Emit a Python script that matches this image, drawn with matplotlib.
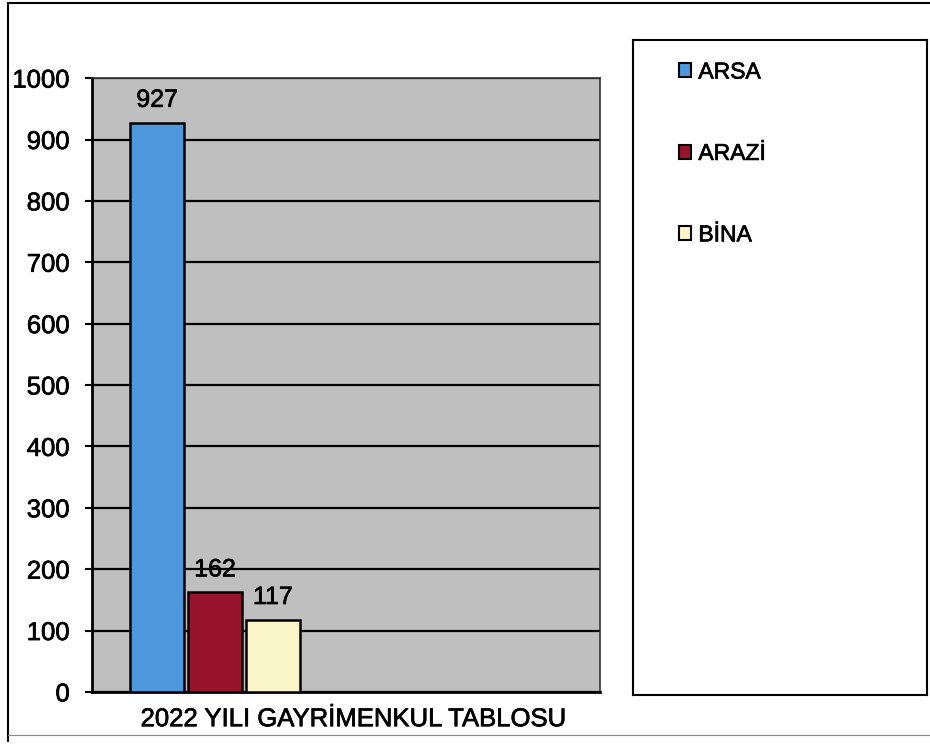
import matplotlib
matplotlib.use('Agg')
import matplotlib.pyplot as plt
import matplotlib.patheffects as pe
from matplotlib.patches import Patch
from matplotlib.lines import Line2D

plt.rcParams['font.family'] = ['Liberation Sans', 'DejaVu Sans']

category = '2022 YILI GAYRİMENKUL TABLOSU'
series = ['ARSA', 'ARAZİ', 'BİNA']
values = [927, 162, 117]
colors = ['#4f97dc', '#98142c', '#faf5c8']
yticks = [0, 100, 200, 300, 400, 500, 600, 700, 800, 900, 1000]

# scanned print looks a bit heavier than plain text
thick = [pe.withStroke(linewidth=0.5, foreground='black')]

fig = plt.figure(figsize=(9.3, 7.44), dpi=100)
fig.patch.set_facecolor('white')

ax = fig.add_axes([0.099, 0.070, 0.546, 0.825])
ax.set_facecolor('#bfbfbf')
ax.set_xlim(0, 1)
ax.set_ylim(0, 1000)
ax.set_yticks(yticks)
ax.yaxis.grid(True, color='black', linewidth=1.6)
ax.set_axisbelow(True)

# bars sit in a group at the left of the single category
bw = 0.106
x0 = 0.128
step = 0.114
for i, (name, v, c) in enumerate(zip(series, values, colors)):
    xc = x0 + i * step
    ax.bar(xc, v, width=bw, color=c, edgecolor='black', linewidth=1.8, zorder=3)
    ax.annotate(str(v), (xc, v), xytext=(0, 8), textcoords='offset points',
                ha='center', va='bottom', fontsize=18, zorder=4, path_effects=thick)

ax.set_xticks([0.515])
ax.set_xticklabels([category], fontsize=18.5)
ax.tick_params(axis='x', length=0, pad=11)
ax.tick_params(axis='y', labelsize=18.5, length=5, width=1.5, pad=11, direction='out')
for lbl in ax.get_xticklabels() + ax.get_yticklabels():
    lbl.set_path_effects(thick)
for s in ['top', 'right']:
    ax.spines[s].set_color('#333333')
    ax.spines[s].set_linewidth(1.2)
for s in ['left', 'bottom']:
    ax.spines[s].set_color('black')
    ax.spines[s].set_linewidth(2)

# legend box
lax = fig.add_axes([0.681, 0.066, 0.316, 0.880])
lax.set_xticks([])
lax.set_yticks([])
for s in lax.spines.values():
    s.set_linewidth(1.5)
    s.set_color('black')
handles = [Patch(facecolor=c, edgecolor='black', linewidth=1.5) for c in colors]
leg = lax.legend(handles, series, loc='upper left', bbox_to_anchor=(0.155, 0.969),
                 frameon=False, fontsize=16.5, handlelength=0.55, handleheight=0.55,
                 handletextpad=0.3, labelspacing=2.55, borderpad=0, borderaxespad=0)
for t in leg.get_texts():
    t.set_path_effects(thick)

# outer chart border from the scan
fig.add_artist(Line2D([0.009, 0.009], [0.004, 0.996], color='black', linewidth=1.5))
fig.add_artist(Line2D([0.009, 1.0], [0.996, 0.996], color='black', linewidth=1.5))
fig.add_artist(Line2D([0.009, 1.0], [0.012, 0.012], color='#888888', linewidth=0.8))

fig.savefig('out.png', dpi=100)
